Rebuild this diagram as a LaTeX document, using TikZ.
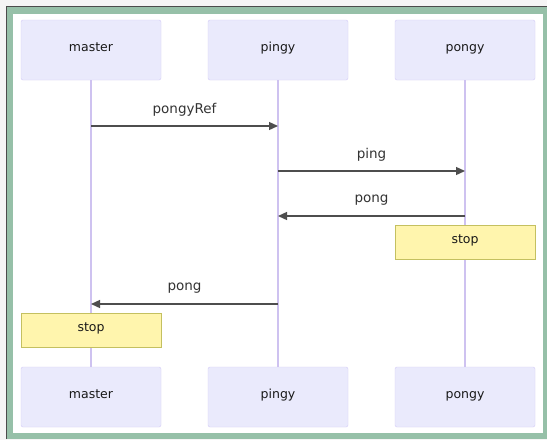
\documentclass[tikz,border=0pt]{standalone}
\usepackage{fontspec}
\setmainfont{DejaVu Sans}
\usetikzlibrary{arrows.meta}

\definecolor{actorfill}{RGB}{234,234,252}
\definecolor{actorline}{RGB}{212,204,246}
\definecolor{lifeline}{RGB}{206,194,240}
\definecolor{notefill}{RGB}{255,245,173}
\definecolor{noteline}{RGB}{196,192,96}
\definecolor{framegreen}{RGB}{150,192,168}
\definecolor{msgline}{RGB}{78,78,78}

\tikzset{
  actor/.style={draw=actorline, fill=actorfill, rounded corners=2pt,
    minimum width=140pt, minimum height=60pt, inner sep=0pt,
    text height=8pt, text depth=6pt,
    font=\fontsize{12.5}{14}\selectfont, text=black!90},
  note/.style={draw=noteline, fill=notefill,
    minimum width=140pt, minimum height=34pt, inner sep=0pt,
    text height=8pt, text depth=6pt,
    font=\fontsize{12.5}{14}\selectfont, text=black!90},
  life/.style={draw=lifeline, line width=1.1pt},
  msg/.style={draw=msgline, line width=1.3pt, -{Triangle[length=9pt,width=8pt]}},
  msglabel/.style={font=\fontsize{13.5}{15}\selectfont, text=black!80, yshift=16pt}
}

\begin{document}
\begin{tikzpicture}[x=1pt,y=-1pt]

        % frame
        \useasboundingbox (0,0) rectangle (547,440);
        \fill[black!4] (0,0) rectangle (547,440);
        \fill[framegreen] (6,6) rectangle (547,439);
        \draw[black!70, line width=1.5pt] (6.5,439) -- (6.5,6.5) -- (547,6.5);
        \fill[white] (13,14) rectangle (543,433);

        % actors, top and bottom
        \node[actor] (masterT) at (91,50) {master};
        \node[actor] (pingyT) at (278,50) {pingy};
        \node[actor] (pongyT) at (465,50) {pongy};
        \node[actor] (masterB) at (91,397) {master};
        \node[actor] (pingyB) at (278,397) {pingy};
        \node[actor] (pongyB) at (465,397) {pongy};

        % lifelines
        \draw[life] (masterT) -- (masterB);
        \draw[life] (pingyT) -- (pingyB);
        \draw[life] (pongyT) -- (pongyB);

        % points on the lifelines
        \coordinate (m1) at (91,126);
        \coordinate (p1) at (278,126);
        \coordinate (p2) at (278,171);
        \coordinate (q2) at (465,171);
        \coordinate (q3) at (465,216);
        \coordinate (p3) at (278,216);
        \coordinate (p4) at (278,304);
        \coordinate (m4) at (91,304);

        % messages
        \draw[msg] (m1) -- (p1) node[midway, msglabel] {pongyRef};
        \draw[msg] (p2) -- (q2) node[midway, msglabel] {ping};
        \draw[msg] (q3) -- (p3) node[midway, msglabel] {pong};
        \draw[msg] (p4) -- (m4) node[midway, msglabel] {pong};

        % notes
        \node[note] (stopPongy) at (465,242) {stop};
        \node[note] (stopMaster) at (91,330) {stop};

\end{tikzpicture}
\end{document}
